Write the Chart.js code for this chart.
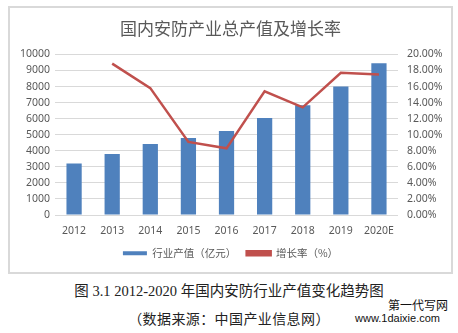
<!DOCTYPE html>
<html>
<head>
<meta charset="utf-8">
<script src="https://cdn.jsdelivr.net/npm/chart.js@4"></script>
<style>
  body { margin: 0; background: #fff; width: 458px; height: 333px; position: relative; overflow: hidden; }
  #box { position: absolute; left: 8px; top: 6px; width: 441px; height: 264px; border: 2px solid #d9d9d9; }
  #caption { position: absolute; left: 0; width: 458px; top: 279px; text-align: center; font: 14.5px "Liberation Serif", "Noto Sans CJK SC"; color: #222; }
  #source { position: absolute; left: 0; width: 458px; top: 308px; text-align: center; font: 14px "Noto Sans CJK SC"; letter-spacing: 0.4px; color: #222; }
  #wm1 { position: absolute; left: 388px; top: 296px; font: 12px "Noto Sans CJK SC"; color: #111; }
  #wm2 { position: absolute; left: 355px; top: 312px; font: 11px "Liberation Sans Narrow", "Liberation Sans"; color: #111; }
</style>
</head>
<body>
<div id="box"><canvas id="chart1"></canvas></div>
<div id="caption">图 3.1 2012-2020 年国内安防行业产值变化趋势图</div>
<div id="source">（数据来源：中国产业信息网）</div>
<div id="wm1">第一代写网</div>
<div id="wm2">www.1daixie.com</div>
<script>
// 国内安防产业总产值及增长率
let years = ["2012", "2013", "2014", "2015", "2016", "2017", "2018", "2019", "2020E"]
let output = [3200, 3800, 4420, 4800, 5230, 6040, 6830, 8000, 9450]
let growth = [null, 0.1885, 0.158, 0.091, 0.083, 0.154, 0.134, 0.177, 0.175]

const tickFont = { family: "'Noto Sans', 'Liberation Sans'", size: 10.5 }

const chartData = {
  labels: years,
  datasets: [
    {
      type: "line",
      label: "增长率（%）",
      data: growth,
      yAxisID: "y1",
      borderColor: "#c0504d",
      backgroundColor: "#c0504d",
      borderWidth: 2.5,
      pointRadius: 0,
      tension: 0,
      order: 0,
    },
    {
      type: "bar",
      label: "行业产值（亿元）",
      data: output,
      yAxisID: "y",
      backgroundColor: "#4f81bd",
      barPercentage: 0.4,
      categoryPercentage: 1,
      order: 1,
    },
  ],
}

const config1 = {
  data: chartData,
  options: {
    responsive: false,
    animation: false,
    layout: { padding: { left: 5, right: 5, top: 0, bottom: 3.5 } },
    plugins: {
      title: {
        display: true,
        text: "国内安防产业总产值及增长率",
        color: "#595959",
        font: { family: "'Noto Sans CJK SC'", size: 17, weight: "normal" },
        padding: { top: 10, bottom: 16 },
      },
      legend: {
        position: "bottom",
        reverse: true,
        labels: {
          color: "#595959",
          boxWidth: 24,
          boxHeight: 4,
          padding: 10.5,
          font: { family: "'Noto Sans CJK SC'", size: 10.5 },
        },
      },
    },
    scales: {
      x: {
        grid: { display: false, drawTicks: false },
        border: { display: false },
        ticks: { color: "#595959", font: tickFont, padding: 9.5 },
        afterFit: (scale) => { scale.height = 22.5 },
      },
      y: {
        position: "left",
        min: 0,
        max: 10000,
        ticks: {
          stepSize: 1000,
          autoSkip: false,
          color: "#595959",
          font: tickFont,
          padding: 5,
          callback: (v) => String(v),
        },
        grid: { color: "#d9d9d9", drawTicks: false },
        border: { display: false },
      },
      y1: {
        position: "right",
        min: 0,
        max: 0.2,
        ticks: {
          stepSize: 0.02,
          autoSkip: false,
          color: "#595959",
          font: tickFont,
          padding: 9,
          callback: (v) => (v * 100).toFixed(2) + "%",
        },
        grid: { display: false, drawTicks: false },
        border: { display: false },
        afterFit: (scale) => { scale.width = 48 },
      },
    },
  },
}

const canvas = document.getElementById("chart1")
canvas.width = 441
canvas.height = 264
const comboChart = new Chart(canvas, config1)
</script>
</body>
</html>
